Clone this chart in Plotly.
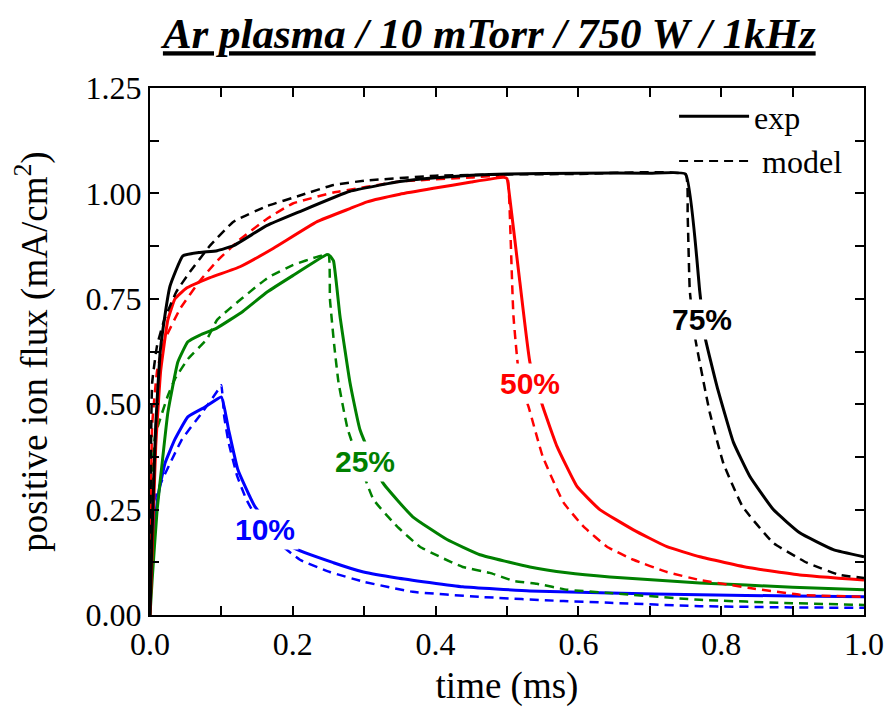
import plotly.graph_objects as go

# ---- data (time in ms, ion flux in mA/cm^2) ----
t_exp_75 = [0, 0.003, 0.008, 0.014, 0.02, 0.028, 0.046, 0.07, 0.094, 0.117, 0.164, 0.21, 0.28, 0.35, 0.4, 0.45, 0.5, 0.6, 0.7, 0.75, 0.77, 0.777, 0.794, 0.817, 0.84, 0.873, 0.91, 0.957, 1.0]
y_exp_75 = [0, 0.2, 0.45, 0.62, 0.7, 0.78, 0.852, 0.86, 0.864, 0.876, 0.924, 0.957, 1.005, 1.028, 1.037, 1.043, 1.046, 1.048, 1.048, 1.046, 0.767, 0.662, 0.543, 0.41, 0.329, 0.25, 0.195, 0.155, 0.138]

t_mod_75 = [0, 0.003, 0.01, 0.02, 0.037, 0.056, 0.084, 0.117, 0.164, 0.21, 0.257, 0.3, 0.4, 0.5, 0.6, 0.75, 0.753, 0.756, 0.763, 0.784, 0.803, 0.83, 0.873, 0.92, 0.966, 1.0]
y_mod_75 = [0.05, 0.55, 0.64, 0.7, 0.767, 0.814, 0.876, 0.933, 0.97, 0.995, 1.02, 1.03, 1.042, 1.045, 1.046, 1.045, 0.95, 0.77, 0.662, 0.48, 0.36, 0.257, 0.171, 0.124, 0.095, 0.088]

t_exp_50 = [0, 0.003, 0.008, 0.015, 0.025, 0.035, 0.05, 0.084, 0.126, 0.173, 0.234, 0.28, 0.304, 0.35, 0.397, 0.45, 0.495, 0.5, 0.504, 0.518, 0.532, 0.55, 0.57, 0.598, 0.63, 0.677, 0.724, 0.77, 0.84, 0.91, 1.0]
y_exp_50 = [0, 0.15, 0.4, 0.58, 0.7, 0.75, 0.774, 0.80, 0.826, 0.87, 0.933, 0.964, 0.98, 0.998, 1.012, 1.027, 1.038, 1.035, 0.988, 0.79, 0.6, 0.495, 0.4, 0.305, 0.25, 0.202, 0.162, 0.138, 0.112, 0.095, 0.083]

t_mod_50 = [0, 0.003, 0.01, 0.02, 0.042, 0.07, 0.094, 0.124, 0.164, 0.2, 0.257, 0.35, 0.45, 0.5, 0.503, 0.509, 0.518, 0.53, 0.55, 0.579, 0.607, 0.64, 0.677, 0.724, 0.77, 0.84, 0.91, 1.0]
y_mod_50 = [0.03, 0.45, 0.58, 0.65, 0.726, 0.793, 0.84, 0.888, 0.94, 0.976, 1.002, 1.028, 1.038, 1.04, 0.99, 0.71, 0.552, 0.495, 0.376, 0.267, 0.21, 0.162, 0.131, 0.102, 0.083, 0.064, 0.048, 0.043]

t_exp_25 = [0, 0.003, 0.01, 0.017, 0.025, 0.039, 0.053, 0.07, 0.093, 0.13, 0.164, 0.2, 0.248, 0.252, 0.257, 0.266, 0.28, 0.294, 0.326, 0.368, 0.416, 0.462, 0.532, 0.584, 0.644, 0.77, 0.9, 1.0]
y_exp_25 = [0, 0.083, 0.25, 0.36, 0.48, 0.6, 0.648, 0.664, 0.68, 0.72, 0.766, 0.805, 0.855, 0.852, 0.84, 0.71, 0.552, 0.44, 0.314, 0.233, 0.179, 0.143, 0.114, 0.1, 0.09, 0.076, 0.066, 0.06]

t_mod_25 = [0, 0.002, 0.007, 0.025, 0.035, 0.053, 0.08, 0.094, 0.165, 0.2, 0.235, 0.25, 0.252, 0.258, 0.264, 0.277, 0.313, 0.346, 0.378, 0.406, 0.438, 0.476, 0.509, 0.542, 0.584, 0.644, 0.77, 0.9, 1.0]
y_mod_25 = [0.02, 0.3, 0.424, 0.52, 0.56, 0.607, 0.655, 0.70, 0.8, 0.83, 0.85, 0.855, 0.75, 0.64, 0.552, 0.44, 0.274, 0.21, 0.162, 0.138, 0.114, 0.1, 0.081, 0.074, 0.06, 0.052, 0.036, 0.028, 0.024]

t_exp_10 = [0, 0.004, 0.011, 0.021, 0.035, 0.053, 0.077, 0.1, 0.11, 0.123, 0.147, 0.2, 0.257, 0.299, 0.346, 0.438, 0.532, 0.644, 0.77, 0.9, 1.0]
y_exp_10 = [0.02, 0.162, 0.28, 0.36, 0.417, 0.47, 0.493, 0.517, 0.44, 0.345, 0.257, 0.16, 0.124, 0.102, 0.088, 0.067, 0.057, 0.052, 0.048, 0.045, 0.043]

t_mod_10 = [0, 0.003, 0.017, 0.045, 0.073, 0.098, 0.1, 0.104, 0.11, 0.122, 0.135, 0.16, 0.21, 0.252, 0.299, 0.368, 0.462, 0.579, 0.644, 0.77, 0.9, 1.0]
y_mod_10 = [0.02, 0.257, 0.32, 0.417, 0.48, 0.54, 0.545, 0.47, 0.41, 0.33, 0.274, 0.2, 0.131, 0.102, 0.079, 0.055, 0.043, 0.033, 0.029, 0.021, 0.018, 0.017]

duty_labels = ["10%", "25%", "50%", "75%"]
label_x = [0.161, 0.301, 0.532, 0.773]
label_y = [0.202, 0.364, 0.548, 0.70]

colors = ["#0000FF", "#008000", "#FF0000", "#000000"]
exp_t = [t_exp_10, t_exp_25, t_exp_50, t_exp_75]
exp_y = [y_exp_10, y_exp_25, y_exp_50, y_exp_75]
mod_t = [t_mod_10, t_mod_25, t_mod_50, t_mod_75]
mod_y = [y_mod_10, y_mod_25, y_mod_50, y_mod_75]

SERIF = "Liberation Serif"
SANS = "Liberation Sans"
DASH = "9px,6px"

fig = go.Figure()
for i in range(4):
    fig.add_trace(go.Scatter(x=mod_t[i], y=mod_y[i], mode="lines", showlegend=False,
                             line=dict(color=colors[i], width=2.5, dash=DASH,
                                       shape="spline", smoothing=0.35)))
    fig.add_trace(go.Scatter(x=exp_t[i], y=exp_y[i], mode="lines", showlegend=False,
                             line=dict(color=colors[i], width=3,
                                       shape="spline", smoothing=0.35)))

# legend entries
fig.add_trace(go.Scatter(x=[None], y=[None], mode="lines", name="exp",
                         line=dict(color="black", width=3)))
fig.add_trace(go.Scatter(x=[None], y=[None], mode="lines", name=" model",
                         line=dict(color="black", width=2, dash=DASH)))

for lab, lx, ly, c in zip(duty_labels, label_x, label_y, colors):
    fig.add_annotation(x=lx, y=ly, text="<b>%s</b>" % lab, showarrow=False,
                       font=dict(family=SANS, size=30, color=c),
                       bgcolor="white", borderpad=3)

axis_common = dict(showline=True, linecolor="black", linewidth=2, mirror="allticks",
                   ticks="inside", ticklen=9, tickwidth=2, tickcolor="black",
                   showgrid=False, zeroline=False, automargin=False,
                   tickfont=dict(family=SERIF, size=32, color="black"))

fig.update_xaxes(range=[0, 1.0], dtick=0.2, tick0=0, tickformat=".1f",
                 minor=dict(dtick=0.1, ticks="inside", ticklen=9, tickwidth=2, tickcolor="black"),
                 title=dict(text="time (ms)", font=dict(family=SERIF, size=37, color="black"), standoff=14),
                 **axis_common)
fig.update_yaxes(range=[0, 1.25], dtick=0.25, tick0=0, tickformat=".2f",
                 minor=dict(dtick=0.125, ticks="inside", ticklen=9, tickwidth=2, tickcolor="black"),
                 title=dict(text="positive ion flux (mA/cm<sup>2</sup>)", font=dict(family=SERIF, size=37, color="black"), standoff=27),
                 **axis_common)

fig.update_layout(
    width=888, height=707,
    margin=dict(l=150, r=24, t=88, b=92),
    paper_bgcolor="white", plot_bgcolor="white",
    title=dict(text="<b><i>Ar plasma / 10 mTorr / 750 W / 1kHz</i></b>",
               font=dict(family=SERIF, size=43, color="black", lineposition="under"),
               x=0.551, xanchor="center", y=0.953, yanchor="middle"),
    legend=dict(x=0.734, y=0.998, xanchor="left", yanchor="top", bgcolor="rgba(0,0,0,0)",
                font=dict(family=SERIF, size=32, color="black"), itemwidth=70,
                tracegroupgap=0),
)

fig.write_html("out.html")
